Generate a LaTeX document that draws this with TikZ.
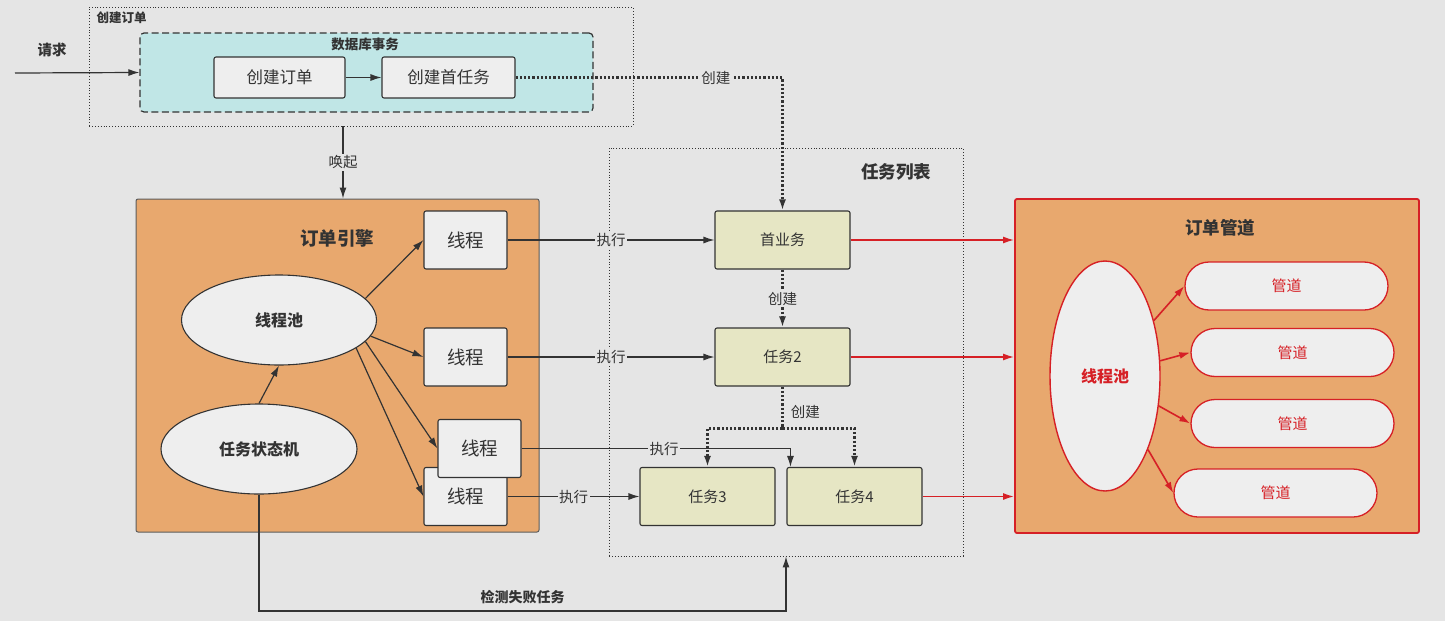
\documentclass[tikz,border=0pt]{standalone}
\usepackage{fontspec}
\setmainfont{Noto Sans CJK SC}
\usetikzlibrary{arrows.meta, calc, shapes.geometric, shapes.misc}
\definecolor{Paper}{RGB}{229, 229, 229}
\definecolor{Ink}{RGB}{51, 51, 51}
\definecolor{Engine}{RGB}{232, 168, 110}
\definecolor{Txn}{RGB}{192, 230, 230}
\definecolor{TaskFill}{RGB}{230, 230, 196}
\definecolor{BoxGray}{RGB}{238, 238, 238}
\definecolor{PipeRed}{RGB}{214, 32, 38}

\begin{document}
\begin{tikzpicture}[x=1pt, y=-1pt,
  >={Latex[length=11pt, width=7pt]},
  line/.style={draw=Ink, line width=1.2pt},
  dotLine/.style={draw=Ink, line width=2.2pt, dotted},
  redLine/.style={draw=PipeRed, line width=1.6pt},
  grp/.style={draw=Ink, dotted, line width=0.9pt, inner sep=0pt},
  plain/.style={draw=Ink, line width=1.1pt, rounded corners=2pt, inner sep=0pt, fill=BoxGray, text=Ink},
  threadBox/.style={plain, minimum width=83, minimum height=58, font=\fontsize{18.5}{18.5}\selectfont},
  taskBox/.style={plain, fill=TaskFill, minimum width=135, minimum height=58, font=\fontsize{15}{15}\selectfont},
  pipeBox/.style={rounded rectangle, draw=PipeRed, line width=1.3pt, fill=BoxGray, text=PipeRed, minimum width=203, minimum height=48, inner sep=0pt, font=\fontsize{15}{15}\selectfont},
  poolEll/.style={ellipse, draw=Ink, line width=1.1pt, fill=BoxGray, inner sep=0pt, minimum width=196, minimum height=90, font=\bfseries\fontsize{16}{16}\selectfont, text=Ink},
  lbl/.style={fill=Paper, inner sep=1.5pt, text=Ink, font=\fontsize{14.5}{14.5}\selectfont},
  title/.style={text=Ink, font=\bfseries\fontsize{#1}{#1}\selectfont},
  title/.default=18
]

% Page
\fill[Paper] (0,0) rectangle (1445,621);
\useasboundingbox (0,0) rectangle (1445,621);

% Order creation
\node[grp, minimum width=544, minimum height=119] (createGrp) at (361,66.5) {};
\node[title=12.5, anchor=west] (createLbl) at (93,18) {创建订单};
\node[draw=Ink, fill=Txn, line width=1.2pt, dash pattern=on 7pt off 3.5pt, rounded corners=4pt,
      minimum width=453, minimum height=79, inner sep=0pt] (txn) at (366.5,72.5) {};
\node[title=13.5] (txnLbl) at (365,44) {数据库事务};
\node[plain, minimum width=131, minimum height=41, font=\fontsize{16.5}{16.5}\selectfont] (mkOrder) at (279.5,77.5) {创建订单};
\node[plain, minimum width=133, minimum height=41, font=\fontsize{16.5}{16.5}\selectfont] (mkTask) at (448.5,77.5) {创建首任务};
\node[title=14.5] (reqLbl) at (52,50) {请求};
\coordinate (reqStart) at (15,73);

% Task list
\node[grp, minimum width=354, minimum height=408] (taskList) at (786,352) {};
\node[title=17.5] (taskLbl) at (896,172) {任务列表};
\node[taskBox] (task1) at (782.5,240) {首业务};
\node[taskBox] (task2) at (782.5,357) {任务2};
\node[taskBox] (task3) at (707.5,496.5) {任务3};
\node[taskBox] (task4) at (854.5,496.5) {任务4};

% Order engine
\node[draw=Ink!80, fill=Engine, line width=1pt, rounded corners=2pt, minimum width=403, minimum height=333, inner sep=0pt] (engine) at (337.5,365.5) {};
\node[title=18.5] (engineLbl) at (337,238) {订单引擎};
\node[poolEll, minimum width=195] (pool) at (279,320) {线程池};
\node[poolEll] (fsm) at (259,449) {任务状态机};
\node[threadBox] (t1) at (465.5,240) {线程};
\node[threadBox] (t2) at (465.5,357) {线程};
\node[threadBox] (t4) at (465.5,496.5) {线程};
\node[threadBox] (t3) at (479.5,448.5) {线程};

% Order pipeline
\node[draw=PipeRed, fill=Engine, line width=1.8pt, rounded corners=2pt, minimum width=404, minimum height=334, inner sep=0pt] (pipeGrp) at (1217,366) {};
\node[title=17.5] (pipeLbl) at (1220,228) {订单管道};
\node[ellipse, draw=PipeRed, line width=1.4pt, fill=BoxGray, inner sep=0pt, minimum width=110, minimum height=230,
      text=PipeRed, font=\bfseries\fontsize{16}{16}\selectfont] (redPool) at (1105,376) {线程池};
\node[pipeBox] (p1) at (1286.5,286) {管道};
\node[pipeBox] (p2) at (1292.5,352.5) {管道};
\node[pipeBox] (p3) at (1292.5,423.5) {管道};
\node[pipeBox] (p4) at (1275.5,493) {管道};

% Connectors, top part
\draw[->, line] (reqStart) -- (txn.west);
\draw[->, line] (mkOrder) -- (mkTask);
\draw[->, dotLine] (mkTask) -| (task1) node[pos=0.375, lbl] {创建};
\coordinate (wakeTop) at ([xshift=-18pt]createGrp.south);
\draw[->, line] (wakeTop) -- (wakeTop |- engine.north) node[midway, lbl] {唤起};

% Inside the engine
\draw[->, line] (fsm.north) -- (pool.south);
\foreach \t/\a in {t1/14, t2/-10, t4/-20, t3/-14}
  \draw[->, line] (pool.\a) -- (\t.west);

% Execution
\draw[->, line] (t1) -- (task1) node[midway, lbl] {执行};
\draw[->, line] (t2) -- (task2) node[midway, lbl] {执行};
\coordinate (t3Hit) at ([xshift=4pt]task4.north west);
\draw[->, line] (t3) -| (t3Hit) node[pos=0.265, lbl] {执行};
\draw[->, line] (t4) -- (task3) node[midway, lbl] {执行};

% Task creation
\draw[->, dotLine] (task1) -- (task2) node[midway, lbl] {创建};
\coordinate (split) at ($(task2.south)+(0,42)$);
\draw[dotLine] (task2) -- (split) node[pos=0.6, right=4pt, text=Ink, font=\fontsize{14.5}{14.5}\selectfont] {创建};
\draw[->, dotLine] (split) -| (task3);
\draw[->, dotLine] (split) -| (task4);

% Failed tasks
\coordinate (failTurn) at (259,611);
\draw[->, line] (fsm) -- (failTurn) -| (taskList.south) node[pos=0.25, above=3pt, title=14] {检测失败任务};

% To the pipeline
\draw[->, redLine] (task1) -- (task1 -| pipeGrp.west);
\draw[->, redLine] (task2) -- (task2 -| pipeGrp.west);
\draw[->, redLine] (task4) -- (task4 -| pipeGrp.west);
\foreach \p in {p1, p2, p3, p4}
  \draw[->, redLine] (redPool) -- (\p.west);

\end{tikzpicture}
\end{document}
